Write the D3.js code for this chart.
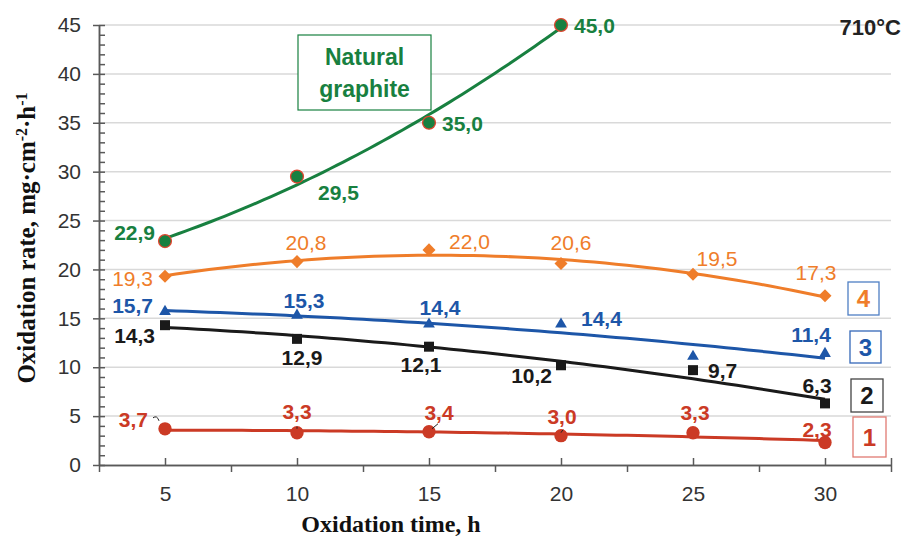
<!DOCTYPE html>
<html>
<head>
<meta charset="utf-8">
<title>Oxidation rate 710°C</title>
<script src="https://d3js.org/d3.v7.min.js"></script>
<style>
body { margin: 0; background: #fff; }
</style>
</head>
<body>
<script>
// ---- data ----
var hours = [5, 10, 15, 20, 25, 30];
var graphiteHours = [5, 10, 15, 20];
var rate1 = [3.7, 3.3, 3.4, 3.0, 3.3, 2.3];
var rate2 = [14.3, 12.9, 12.1, 10.2, 9.7, 6.3];
var rate3 = [15.7, 15.3, 14.4, 14.4, 11.1, 11.4];
var rate4 = [19.3, 20.8, 22.0, 20.6, 19.5, 17.3];
var rateGraphite = [22.9, 29.5, 35.0, 45.0];
var noLabel3 = [4];   // 25 h point of series 3 has no value label
var yTicks = [0, 5, 10, 15, 20, 25, 30, 35, 40, 45];
var xTicks = [5, 10, 15, 20, 25, 30];
var xMinorTicks = [2.5, 7.5, 12.5, 17.5, 22.5, 27.5, 32.5];

// label placement relative to marker: [dx, dy, anchor]
var pos1 = [[-17,-9,"end"],[0,-21,"middle"],[10,-19,"middle"],[1,-19,"middle"],[2,-20,"middle"],[-8,-13,"middle"]];
var pos2 = [[-10,10,"end"],[5,19,"middle"],[-8,18,"middle"],[-9,10,"end"],[15,0,"start"],[-8,-18,"middle"]];
var pos3 = [[-12,-6,"end"],[7,-15,"middle"],[11,-17,"middle"],[20,-6,"start"],[0,0,"middle"],[-14,-19,"middle"]];
var pos4 = [[-12,2,"end"],[9,-19,"middle"],[20,-8,"start"],[10,-21,"middle"],[24,-16,"middle"],[-9,-23,"middle"]];
var posG = [[-10,-8,"end"],[21,16,"start"],[13,1,"start"],[13,1,"start"]];

var W = 904, H = 538;
var svg = d3.select("body").append("svg")
    .attr("width", W)
    .attr("height", H);

var x = d3.scaleLinear().domain([2.5, 32.5]).range([99, 891]);
var y = d3.scaleLinear().domain([0, 45]).range([465, 25]);

var fmt = function(v){ return d3.format(".1f")(v).replace(".", ","); };

// least squares 2nd order trend line (as in the source spreadsheet)
function quadFit(xs, ys){
    var S = [0,0,0,0,0], T = [0,0,0];
    xs.forEach(function(xv, i){
        var p = 1;
        for (var k = 0; k < 5; k++){
            S[k] += p;
            if (k < 3) T[k] += p * ys[i];
            p *= xv;
        }
    });
    var A = [[S[0],S[1],S[2],T[0]],[S[1],S[2],S[3],T[1]],[S[2],S[3],S[4],T[2]]];
    for (var c = 0; c < 3; c++){
        for (var r = c + 1; r < 3; r++){
            var f = A[r][c] / A[c][c];
            for (var k = c; k < 4; k++) A[r][k] -= f * A[c][k];
        }
    }
    var b = [0,0,0];
    for (var r = 2; r >= 0; r--){
        var s = A[r][3];
        for (var k = r + 1; k < 3; k++) s -= A[r][k] * b[k];
        b[r] = s / A[r][r];
    }
    return function(t){ return b[0] + b[1]*t + b[2]*t*t; };
}

// grid
svg.append("g").selectAll("line")
    .data(yTicks.filter(function(d){ return d > 0; }))
    .enter().append("line")
    .attr("x1", x(2.5)).attr("x2", x(32.5))
    .attr("y1", function(d){ return y(d); })
    .attr("y2", function(d){ return y(d); })
    .attr("stroke", "#d9d9d9")
    .attr("stroke-width", 1.5);

// axes
function styleAxis(g){
    g.selectAll("path, line").attr("stroke", "#595959").attr("stroke-width", 1.5);
    g.selectAll("text").attr("fill", "#333")
        .style("font-family", "'Liberation Sans', Arial, sans-serif")
        .style("font-size", "21px");
}
svg.append("g")
    .attr("transform", "translate(" + x(2.5) + ",0)")
    .call(d3.axisRight(y).tickValues(d3.range(0, 46, 1)).tickSize(6).tickSizeOuter(0).tickFormat(""))
    .call(styleAxis);
svg.append("g")
    .attr("transform", "translate(" + x(2.5) + ",0)")
    .call(d3.axisLeft(y).tickValues(yTicks).tickSize(6).tickSizeOuter(0).tickPadding(12))
    .call(styleAxis);
svg.append("g")
    .attr("transform", "translate(0," + y(0) + ")")
    .call(d3.axisBottom(x).tickValues(xMinorTicks).tickSize(7).tickSizeOuter(0).tickFormat(""))
    .call(styleAxis);
svg.append("g")
    .attr("transform", "translate(0," + y(0) + ")")
    .call(d3.axisBottom(x).tickValues(xTicks.concat([32.5])).tickSizeInner(-7).tickSizeOuter(0).tickPadding(21)
        .tickFormat(function(d){ return d === 32.5 ? "" : d; }))
    .call(styleAxis);

// series
var line = d3.line()
    .x(function(d){ return x(d[0]); })
    .y(function(d){ return y(d[1]); });

function drawSeries(xs, ys, color, symbol, size, rotate, mfill, mstroke, pos, bold, skip){
    var fit = quadFit(xs, ys);
    var x0 = d3.min(xs), x1 = d3.max(xs);
    var pts = d3.range(0, 61).map(function(i){
        var t = x0 + (x1 - x0) * i / 60;
        return [t, fit(t)];
    });
    svg.append("path")
        .attr("d", line(pts))
        .attr("fill", "none")
        .attr("stroke", color)
        .attr("stroke-width", 3);

    svg.append("g").selectAll("path")
        .data(ys).enter().append("path")
        .attr("d", d3.symbol().type(symbol).size(size))
        .attr("transform", function(d, i){
            return "translate(" + x(xs[i]) + "," + y(d) + ")" + (rotate ? " rotate(45)" : "");
        })
        .attr("fill", mfill)
        .attr("stroke", mstroke || "none")
        .attr("stroke-width", mstroke ? 1.3 : 0);

    var idx = d3.range(ys.length).filter(function(i){ return !skip || skip.indexOf(i) < 0; });
    svg.append("g").selectAll("text")
        .data(idx).enter().append("text")
        .attr("x", function(i){ return x(xs[i]) + pos[i][0]; })
        .attr("y", function(i){ return y(ys[i]) + pos[i][1]; })
        .attr("dy", "0.35em")
        .attr("text-anchor", function(i){ return pos[i][2]; })
        .attr("fill", color)
        .style("font-family", "'Liberation Sans', Arial, sans-serif")
        .style("font-size", "21px")
        .style("font-weight", bold ? "bold" : "normal")
        .text(function(i){ return fmt(ys[i]); });
}

drawSeries(hours, rate4, "#ef7d2a", d3.symbolSquare, 85, true, "#ef7d2a", null, pos4, false);
drawSeries(hours, rate3, "#1d56a8", d3.symbolTriangle, 60, false, "#1d56a8", null, pos3, true, noLabel3);
drawSeries(hours, rate2, "#1a1a1a", d3.symbolSquare, 100, false, "#1a1a1a", null, pos2, true);
drawSeries(hours, rate1, "#cb3a25", d3.symbolCircle, 140, false, "#cb3a25", null, pos1, true);
drawSeries(graphiteHours, rateGraphite, "#188040", d3.symbolCircle, 130, false, "#188040", "#e0452f", posG, true);

// small leader lines for series 1 labels
var leaders = [[0, "M-12,-11 q4,-3 6,3"], [2, "M9,-8 l-6,5"], [3, "M2,-6 l-2,3"], [1, "M0,-6 l0,2"]];
svg.append("g").selectAll("path")
    .data(leaders).enter().append("path")
    .attr("transform", function(d){ return "translate(" + x(hours[d[0]]) + "," + y(rate1[d[0]]) + ")"; })
    .attr("d", function(d){ return d[1]; })
    .attr("fill", "none")
    .attr("stroke", "#222")
    .attr("stroke-width", 1);

// Natural graphite box
svg.append("rect")
    .attr("x", 298).attr("y", 35).attr("width", 133).attr("height", 75)
    .attr("fill", "#fff").attr("stroke", "#188040").attr("stroke-width", 1.2);
svg.append("text")
    .attr("x", 364.5).attr("y", 65)
    .attr("text-anchor", "middle")
    .attr("fill", "#188040")
    .style("font-family", "'Liberation Sans', Arial, sans-serif")
    .style("font-size", "23px").style("font-weight", "bold")
    .text("Natural");
svg.append("text")
    .attr("x", 364.5).attr("y", 97)
    .attr("text-anchor", "middle")
    .attr("fill", "#188040")
    .style("font-family", "'Liberation Sans', Arial, sans-serif")
    .style("font-size", "23px").style("font-weight", "bold")
    .text("graphite");

// temperature
svg.append("text")
    .attr("x", 901).attr("y", 35)
    .attr("text-anchor", "end")
    .attr("fill", "#222")
    .style("font-family", "'Liberation Sans', Arial, sans-serif")
    .style("font-size", "22px").style("font-weight", "bold")
    .text("710°C");

// numbered legend boxes
var boxes = [
    {n: "4", x: 848, y: 282, w: 31, h: 33, border: "#4f7fc4", color: "#ef7d2a"},
    {n: "3", x: 850, y: 331, w: 31, h: 32, border: "#3568b8", color: "#1d56a8"},
    {n: "2", x: 851, y: 379, w: 32, h: 33, border: "#444", color: "#1a1a1a"},
    {n: "1", x: 853, y: 417, w: 33, h: 40, border: "#e07a72", color: "#cb3a25"}
];
var bx = svg.append("g").selectAll("g").data(boxes).enter().append("g");
bx.append("rect")
    .attr("x", function(d){ return d.x; }).attr("y", function(d){ return d.y; })
    .attr("width", function(d){ return d.w; }).attr("height", function(d){ return d.h; })
    .attr("fill", "#fff")
    .attr("stroke", function(d){ return d.border; })
    .attr("stroke-width", 1.3);
bx.append("text")
    .attr("x", function(d){ return d.x + d.w / 2; })
    .attr("y", function(d){ return d.y + d.h / 2; })
    .attr("dy", "0.36em")
    .attr("text-anchor", "middle")
    .attr("fill", function(d){ return d.color; })
    .style("font-family", "'Liberation Sans', Arial, sans-serif")
    .style("font-size", "24px").style("font-weight", "bold")
    .text(function(d){ return d.n; });

// axis titles
var yTitle = svg.append("text")
    .attr("transform", "translate(35,238) rotate(-90)")
    .attr("text-anchor", "middle")
    .attr("fill", "#111")
    .style("font-family", "'Liberation Serif', 'Times New Roman', serif")
    .style("font-size", "25px").style("font-weight", "bold");
yTitle.append("tspan").text("Oxidation rate,  mg·cm");
yTitle.append("tspan").attr("baseline-shift", "super").style("font-size", "16px").text("-2");
yTitle.append("tspan").text("·h");
yTitle.append("tspan").attr("baseline-shift", "super").style("font-size", "16px").text("-1");

svg.append("text")
    .attr("x", 391).attr("y", 532)
    .attr("text-anchor", "middle")
    .attr("fill", "#111")
    .style("font-family", "'Liberation Serif', 'Times New Roman', serif")
    .style("font-size", "24px").style("font-weight", "bold")
    .text("Oxidation time, h");
</script>
</body>
</html>
